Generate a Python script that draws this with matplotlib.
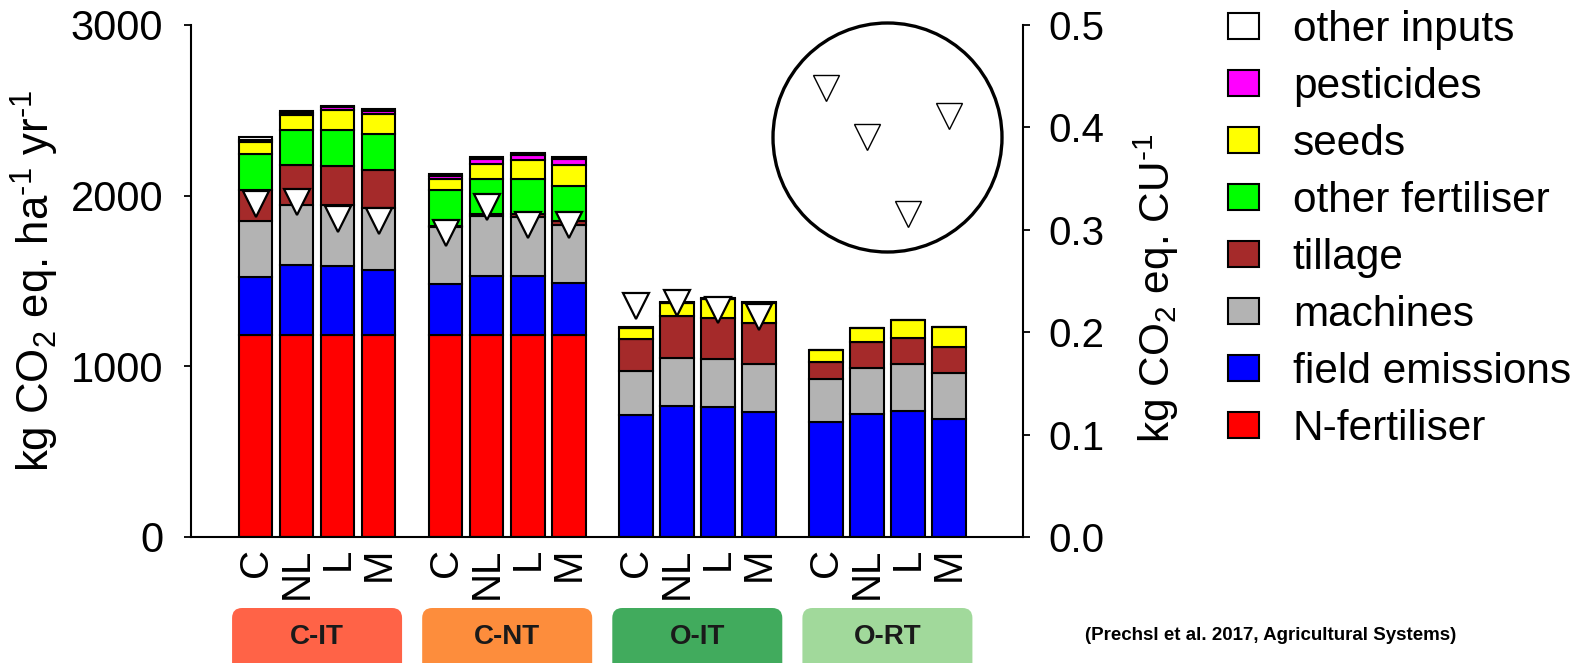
import numpy as np
import matplotlib
matplotlib.use('Agg')
import matplotlib.pyplot as plt
from matplotlib import transforms
from matplotlib.patches import FancyBboxPatch, Ellipse

plt.rcParams['font.family'] = ['Liberation Sans', 'DejaVu Sans']
plt.rcParams['mathtext.fontset'] = 'custom'
plt.rcParams['mathtext.rm'] = 'Liberation Sans'
plt.rcParams['mathtext.it'] = 'Liberation Sans:italic'

# data
groups = ['C-IT', 'C-NT', 'O-IT', 'O-RT']
group_colors = ['#FF6347', '#FD8D3C', '#41AB5D', '#A1D99B']
bar_labels = ['C', 'NL', 'L', 'M'] * 4

n_fertiliser = [1185, 1185, 1185, 1185, 1185, 1185, 1185, 1185,
                0, 0, 0, 0, 0, 0, 0, 0]
field_emissions = [340, 406, 405, 381, 299, 342, 342, 303,
                   716, 768, 761, 731, 676, 721, 741, 690]
machines = [325, 354, 353, 360, 332, 352, 348, 342,
            254, 278, 281, 280, 252, 272, 274, 270]
tillage = [182, 233, 233, 225, 5, 15, 17, 19,
           190, 246, 244, 242, 100, 152, 150, 156]
other_fertiliser = [215, 205, 207, 213, 210, 206, 208, 210,
                    0, 0, 0, 0, 0, 0, 0, 0]
seeds = [67, 88, 121, 117, 67, 88, 109, 123,
         64, 79, 108, 118, 65, 79, 108, 117]
pesticides = [15, 14, 13, 14, 19, 27, 31, 33,
              0, 0, 0, 0, 0, 0, 0, 0]
other_inputs = [14, 9, 9, 13, 12, 10, 10, 10,
                5, 5, 5, 5, 0, 0, 0, 0]

# kg CO2 eq. per cereal unit (right axis)
per_cu = [0.325, 0.327, 0.311, 0.309, 0.297, 0.322, 0.305, 0.305,
          0.226, 0.229, 0.222, 0.215, 0.438, 0.391, 0.315, 0.411]

components = [
    ('N-fertiliser', n_fertiliser, '#FF0000'),
    ('field emissions', field_emissions, '#0000FF'),
    ('machines', machines, '#B3B3B3'),
    ('tillage', tillage, '#A52A2A'),
    ('other fertiliser', other_fertiliser, '#00FF00'),
    ('seeds', seeds, '#FFFF00'),
    ('pesticides', pesticides, '#FF00FF'),
    ('other inputs', other_inputs, '#FFFFFF'),
]

W, H = 1577, 663
fig = plt.figure(figsize=(W / 100, H / 100), dpi=100)
ax = fig.add_axes([191 / W, 1 - 537 / H, 832 / W, 512 / H])

group_step = 190 / 41
x = np.array([g * group_step + i for g in range(4) for i in range(4)])

bottom = np.zeros(len(x))
handles = []
for name, vals, col in components:
    vals = np.array(vals, dtype=float)
    b = ax.bar(x, vals, width=0.82, bottom=bottom, color=col,
               edgecolor='black', linewidth=1.5, label=name, zorder=2)
    handles.append(b)
    bottom += vals

ax.set_xlim(-1.573, 3 * group_step + 3 + 1.805)
ax.set_ylim(0, 3000)
ax.set_yticks([0, 1000, 2000, 3000])
ax.set_xticks(x)
ax.set_xticklabels(bar_labels, rotation=90, fontsize=29, va='top')
ax.tick_params(axis='x', length=0, pad=8)
ax.tick_params(axis='y', direction='out', length=5, width=1.3,
               labelsize=30, pad=15)
for s in ['top', 'right']:
    ax.spines[s].set_visible(False)
for s in ['left', 'bottom']:
    ax.spines[s].set_linewidth(1.5)
ax.set_ylabel(r'kg CO$_2$ eq. ha$^{\text{-}1}$ yr$^{\text{-}1}$',
              fontsize=31.5, va='center')
ax.yaxis.set_label_coords(-0.1875, 0.5)

# right axis with triangles
ax2 = ax.twinx()
ax2.set_ylim(0, 0.5)
ax2.set_yticks([0.0, 0.1, 0.2, 0.3, 0.4, 0.5])
ax2.set_yticklabels(['%.1f' % v for v in [0.0, 0.1, 0.2, 0.3, 0.4, 0.5]])
ax2.tick_params(axis='y', direction='out', length=5, width=1.3,
                labelsize=29, pad=13)
for s in ['top', 'left', 'bottom']:
    ax2.spines[s].set_visible(False)
ax2.spines['right'].set_linewidth(1.5)
ax2.set_ylabel(r'kg CO$_2$ eq. CU$^{\text{-}1}$', fontsize=30.5, va='center')
ax2.yaxis.set_label_coords(1.16, 0.485)

ax2.plot(x[:12], per_cu[:12], linestyle='none', marker='v', markersize=19,
         markerfacecolor='white', markeredgecolor='black',
         markeredgewidth=1.6, zorder=5)
ax2.plot(x[12:], per_cu[12:], linestyle='none', marker='v', markersize=19,
         markerfacecolor='white', markeredgecolor='black',
         markeredgewidth=1.0, zorder=5)

# circle round the O-RT triangles
circle = Ellipse((887.5 / W, 1 - 137.5 / H), 229 / W, 229 / H,
                 transform=fig.transFigure, facecolor='none',
                 edgecolor='black', linewidth=2.4)
fig.add_artist(circle)

# group boxes under the axis
fig.canvas.draw()
for g, (name, col) in enumerate(zip(groups, group_colors)):
    cx = ax.transData.transform((g * group_step + 1.5, 0))[0]
    box = FancyBboxPatch((cx - 85, -20), 170, 20 + (H - 608),
                         boxstyle='round,pad=0,rounding_size=10',
                         facecolor=col, edgecolor='none',
                         transform=transforms.IdentityTransform())
    fig.add_artist(box)
    fig.text(cx / W, (H - 637) / H, name, ha='center', va='center',
             fontsize=20, fontweight='bold', color='#1a1a1a')

fig.text(1271 / W, (H - 635) / H, '(Prechsl et al. 2017, Agricultural Systems)',
         ha='center', va='center', fontsize=13.5, fontweight='bold')

fig.legend(handles[::-1], [c[0] for c in components][::-1],
           loc='upper left', bbox_to_anchor=(1228 / W, 1 - 10 / H),
           frameon=False, fontsize=30.5, handlelength=0.73, handleheight=0.57,
           handletextpad=0.8, labelspacing=0.40, borderpad=0,
           borderaxespad=0)

fig.savefig('out.png', dpi=100)
